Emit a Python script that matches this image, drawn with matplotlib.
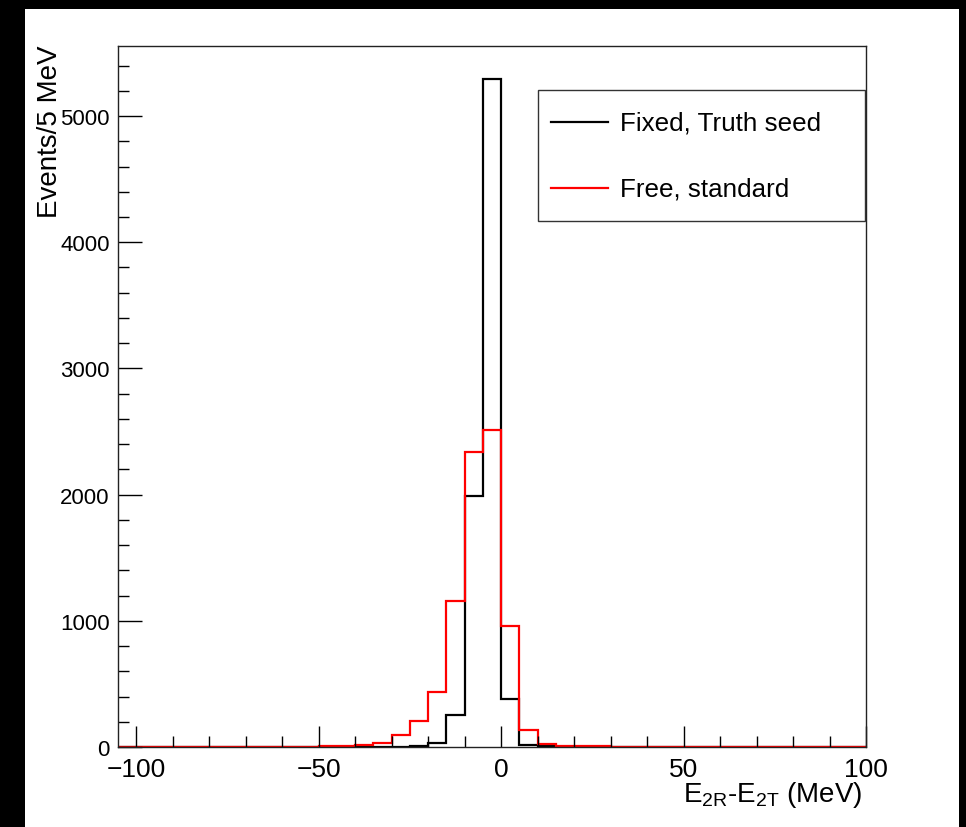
import numpy as np
import matplotlib
matplotlib.use("Agg")
import matplotlib.pyplot as plt
from matplotlib.patches import Rectangle
from matplotlib.lines import Line2D
from matplotlib.ticker import MultipleLocator

plt.rcParams['font.family'] = ['Liberation Sans', 'DejaVu Sans']
plt.rcParams['mathtext.fontset'] = 'custom'
plt.rcParams['mathtext.rm'] = 'Liberation Sans'
plt.rcParams['mathtext.it'] = 'Liberation Sans'

# ---- data ----
bin_edges = np.arange(-105, 101, 5)  # 41 bins of 5 MeV, first bin starts at -105
fixed_truth_seed = ([0] * 13 + [1, 1, 2] +
                    [5, 30, 254, 1990, 5290, 380, 15, 6, 3, 2, 1, 1] +
                    [0] * 13)
free_standard = [0, 0, 0, 0, 1, 1, 1, 1, 2, 2, 3, 4, 5, 12, 34, 98,
                 204, 433, 1160, 2335, 2510, 961, 137, 25, 10, 6, 4, 3, 2, 2,
                 1, 1, 1, 1, 1, 0, 0, 0, 0, 0, 0]
legend_labels = ["Fixed, Truth seed", "Free, standard"]
x_label = r"E$_{\mathregular{2R}}$-E$_{\mathregular{2T}}$ (MeV)"
y_label = "Events/5 MeV"

W, H = 966, 828
fig = plt.figure(figsize=(W / 100, H / 100), dpi=100, facecolor='black')
fig.add_artist(Rectangle((25 / W, 0), (959 - 25) / W, (828 - 10) / H,
                         transform=fig.transFigure, facecolor='white',
                         edgecolor='none', zorder=-10))

ax = fig.add_axes([118 / W, 1 - 748 / H, (866 - 118) / W, (748 - 47) / H])
ax.stairs(fixed_truth_seed, bin_edges, color='black', lw=1.6, baseline=None)
ax.stairs(free_standard, bin_edges, color='#ff0000', lw=1.6, baseline=None)

ax.set_xlim(-105, 100)
ax.set_ylim(0, 5555)
ax.set_xticks([-100, -50, 0, 50, 100])
ax.xaxis.set_minor_locator(MultipleLocator(10))
ax.yaxis.set_major_locator(MultipleLocator(1000))
ax.yaxis.set_minor_locator(MultipleLocator(200))
ax.set_xticklabels(["\u2212100", "\u221250", "0", "50", "100"])
ax.tick_params(axis='x', which='major', direction='in', length=15, width=1,
               labelsize=19, pad=7, top=False)
ax.tick_params(axis='x', which='minor', direction='in', length=8, width=1, top=False)
ax.tick_params(axis='y', which='major', direction='in', length=17, width=1,
               labelsize=16, pad=6, right=False)
ax.tick_params(axis='y', which='minor', direction='in', length=8, width=1, right=False)
for s in ax.spines.values():
    s.set_linewidth(1)
    s.set_color('#222222')

fig.text(50 / W, 1 - 46 / H, y_label, rotation=90, ha='center', va='top', fontsize=20)
fig.text(862 / W, 1 - 802 / H, x_label, ha='right', va='baseline', fontsize=20)

# legend (manual, ROOT style)
fig.add_artist(Rectangle((538 / W, 1 - 222 / H), (865 - 538) / W, (222 - 91) / H,
                         transform=fig.transFigure, facecolor='white',
                         edgecolor='#333333', lw=1, zorder=5))
for yy, col, lab in [(123, 'black', legend_labels[0]), (189, '#ff0000', legend_labels[1])]:
    fig.add_artist(Line2D([551 / W, 608 / W], [1 - yy / H, 1 - yy / H],
                          transform=fig.transFigure, color=col, lw=1.6, zorder=6))
    fig.text(620 / W, 1 - yy / H, lab, ha='left', va='center', fontsize=18.7, zorder=6)

fig.savefig("out.png", dpi=100, facecolor=fig.get_facecolor())
